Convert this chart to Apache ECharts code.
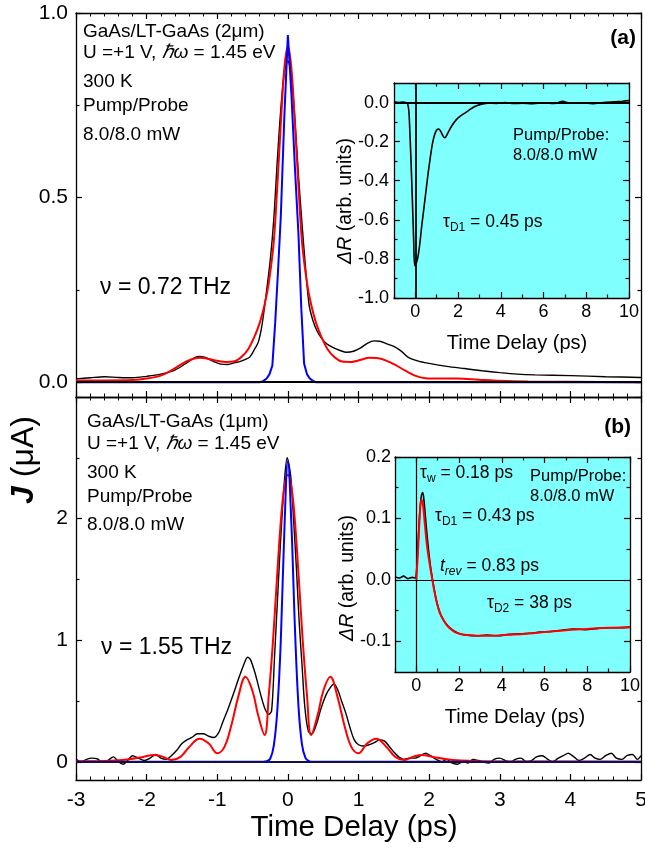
<!DOCTYPE html>
<html>
<head>
<meta charset="utf-8">
<script src="https://cdn.jsdelivr.net/npm/echarts@6/dist/echarts.min.js"></script>
<style>
  html, body { margin: 0; padding: 0; background: #fff; }
  #chart { width: 645px; height: 848px; }
</style>
</head>
<body>
<div id="chart"></div>
<script>
// ---------- data: photocurrent J(t) and reflectivity ΔR(t) ----------
// Panel (a): GaAs/LT-GaAs (2 µm)
const panelA_measured = [
  [-3.0,0.009],[-2.8,0.012],[-2.6,0.015],[-2.4,0.013],[-2.2,0.012],[-2.0,0.016],[-1.8,0.022],
  [-1.6,0.033],[-1.45,0.05],[-1.35,0.063],[-1.27,0.07],[-1.17,0.067],[-1.05,0.056],[-0.95,0.049],
  [-0.85,0.048],[-0.75,0.053],[-0.68,0.056],[-0.6,0.062],[-0.54,0.068],[-0.47,0.09],[-0.42,0.108],
  [-0.38,0.14],[-0.35,0.176],[-0.3,0.25],[-0.25,0.33],[-0.2,0.44],[-0.15,0.6],[-0.1,0.74],
  [-0.05,0.84],[0,0.87],[0.05,0.83],[0.1,0.71],[0.15,0.56],[0.2,0.43],[0.25,0.31],[0.3,0.21],
  [0.35,0.17],[0.41,0.14],[0.48,0.118],[0.55,0.104],[0.65,0.093],[0.74,0.086],[0.83,0.081],
  [0.93,0.084],[1.03,0.093],[1.13,0.106],[1.22,0.112],[1.3,0.111],[1.4,0.104],[1.5,0.097],
  [1.6,0.085],[1.7,0.068],[1.85,0.057],[2.0,0.051],[2.25,0.043],[2.5,0.037],[2.75,0.031],
  [3.0,0.026],[3.25,0.022],[3.5,0.02],[4.0,0.018],[4.5,0.015],[5.0,0.013]
];
const panelA_fit = [
  [-3,0.005],[-2.6,0.005],[-2.2,0.006],[-2.0,0.01],[-1.8,0.018],[-1.65,0.032],[-1.5,0.05],
  [-1.38,0.061],[-1.25,0.066],[-1.12,0.063],[-1.0,0.058],[-0.88,0.055],[-0.77,0.056],[-0.66,0.068],
  [-0.56,0.09],[-0.47,0.125],[-0.4,0.16],[-0.33,0.21],[-0.27,0.27],[-0.2,0.38],[-0.15,0.53],
  [-0.1,0.70],[-0.05,0.85],[0,0.91],[0.05,0.85],[0.1,0.70],[0.15,0.53],[0.2,0.38],[0.27,0.27],
  [0.33,0.21],[0.4,0.16],[0.47,0.125],[0.56,0.09],[0.66,0.068],[0.77,0.056],[0.9,0.055],
  [1.02,0.06],[1.15,0.066],[1.28,0.065],[1.4,0.058],[1.52,0.047],[1.65,0.033],[1.8,0.018],
  [1.95,0.011],[2.15,0.01],[2.4,0.01],[2.7,0.007],[3.0,0.004],[3.4,0.002],[4.0,0.001],[5.0,0.0]
];
const panelA_pulse = [
  [-3,0],[-0.4,0],[-0.35,0.003],[-0.3,0.01],[-0.26,0.022],[-0.22,0.045],[-0.18,0.16],
  [-0.14,0.30],[-0.1,0.45],[-0.05,0.72],[0,0.94],[0.05,0.78],[0.1,0.58],[0.15,0.40],
  [0.19,0.2],[0.23,0.05],[0.27,0.022],[0.31,0.01],[0.36,0.003],[0.4,0],[5,0]
];
// Panel (b): GaAs/LT-GaAs (1 µm)
const panelB_measured = [
  [-3.0,0.02],[-2.92,0.0],[-2.85,0.02],[-2.78,0.03],[-2.7,0.025],[-2.62,-0.005],[-2.55,0.01],
  [-2.47,0.04],[-2.4,0.0],[-2.33,-0.02],[-2.27,0.01],[-2.2,0.05],[-2.12,0.03],[-2.03,0.01],
  [-1.95,0.03],[-1.87,0.06],[-1.8,0.03],[-1.72,0.02],[-1.65,0.05],[-1.58,0.09],[-1.5,0.15],
  [-1.43,0.18],[-1.36,0.2],[-1.28,0.23],[-1.2,0.23],[-1.12,0.21],[-1.05,0.2],[-0.98,0.24],
  [-0.92,0.33],[-0.85,0.43],[-0.77,0.56],[-0.7,0.68],[-0.63,0.79],[-0.57,0.86],[-0.53,0.84],
  [-0.47,0.74],[-0.42,0.63],[-0.37,0.52],[-0.32,0.43],[-0.27,0.39],[-0.23,0.42],[-0.19,0.85],
  [-0.15,1.3],[-0.1,1.85],[-0.05,2.3],[-0.01,2.5],[0.04,2.35],[0.08,2.0],[0.12,1.6],[0.16,1.15],
  [0.2,0.8],[0.24,0.45],[0.29,0.25],[0.34,0.23],[0.4,0.3],[0.47,0.44],[0.54,0.55],[0.6,0.61],
  [0.65,0.64],[0.7,0.6],[0.76,0.5],[0.82,0.4],[0.88,0.28],[0.94,0.18],[1.0,0.14],[1.07,0.13],
  [1.15,0.14],[1.23,0.16],[1.3,0.18],[1.37,0.17],[1.43,0.13],[1.5,0.08],[1.57,0.04],[1.64,0.02],
  [1.72,0.03],[1.8,0.03],[1.88,0.05],[1.95,0.07],[2.02,0.05],[2.1,0.02],[2.18,0.0],[2.25,0.02],
  [2.32,-0.01],[2.4,-0.02],[2.48,0.0],[2.55,-0.01],[2.62,0.02],[2.7,0.01],[2.78,-0.005],
  [2.85,-0.01],[2.92,0.02],[3.0,0.03],[3.08,0.01],[3.15,-0.005],[3.22,0.02],[3.3,0.03],
  [3.38,0.0],[3.45,0.01],[3.52,0.04],[3.6,0.05],[3.68,0.02],[3.75,0.0],[3.83,0.03],[3.9,0.05],
  [3.97,0.07],[4.05,0.04],[4.12,0.01],[4.2,0.03],[4.28,0.06],[4.35,0.03],[4.42,0.02],[4.5,0.05],
  [4.58,0.07],[4.65,0.03],[4.73,0.02],[4.8,0.05],[4.88,0.06],[4.95,0.02],[5.0,0.05]
];
const panelB_fit = [
  [-3,0.004],[-2.7,0.005],[-2.45,0.01],[-2.25,0.02],[-2.05,0.04],[-1.9,0.055],[-1.77,0.04],
  [-1.65,0.015],[-1.52,0.04],[-1.4,0.12],[-1.25,0.19],[-1.12,0.15],[-1.0,0.07],[-0.9,0.12],
  [-0.8,0.3],[-0.7,0.54],[-0.6,0.70],[-0.5,0.58],[-0.42,0.38],[-0.33,0.22],[-0.27,0.55],
  [-0.21,1.0],[-0.15,1.55],[-0.09,2.05],[-0.04,2.3],[0,2.36],[0.04,2.3],[0.09,2.05],[0.15,1.55],
  [0.21,1.0],[0.27,0.55],[0.33,0.22],[0.42,0.38],[0.5,0.58],[0.6,0.70],[0.7,0.54],[0.8,0.3],
  [0.9,0.12],[1.0,0.07],[1.12,0.15],[1.25,0.19],[1.4,0.12],[1.52,0.04],[1.65,0.015],[1.77,0.04],
  [1.9,0.055],[2.05,0.04],[2.25,0.02],[2.45,0.01],[2.7,0.005],[3.0,0.003],[5.0,0.0]
];
const panelB_pulse = [
  [-3,0],[-0.35,0],[-0.3,0.004],[-0.25,0.025],[-0.2,0.13],[-0.15,0.42],[-0.1,1.0],[-0.05,1.9],
  [0,2.47],[0.05,1.95],[0.1,1.1],[0.15,0.46],[0.2,0.14],[0.25,0.03],[0.3,0.005],[0.35,0],[5,0]
];
// Inset (a): ΔR transient
const insetA_dR = [
  [-1.0,0.004],[-0.8,0.0],[-0.6,0.003],[-0.45,0.0],[-0.36,-0.008],[-0.3,-0.05],[-0.25,-0.17],
  [-0.2,-0.31],[-0.14,-0.5],[-0.08,-0.7],[-0.03,-0.835],[0.05,-0.82],[0.12,-0.79],[0.2,-0.73],
  [0.3,-0.63],[0.4,-0.54],[0.5,-0.45],[0.6,-0.36],[0.7,-0.28],[0.8,-0.21],[0.9,-0.165],
  [1.0,-0.14],[1.1,-0.135],[1.2,-0.15],[1.3,-0.172],[1.38,-0.18],[1.5,-0.16],[1.7,-0.12],
  [1.9,-0.09],[2.1,-0.07],[2.3,-0.055],[2.5,-0.04],[2.7,-0.025],[2.9,-0.015],[3.1,-0.008],
  [3.4,-0.003],[3.8,-0.004],[4.2,0.0],[4.6,-0.005],[5.0,-0.003],[5.5,-0.006],[6.0,-0.002],
  [6.5,-0.005],[6.9,0.006],[7.2,-0.003],[7.8,-0.002],[8.3,-0.006],[8.8,0.0],[9.3,0.004],
  [9.7,0.007],[10,0.01]
];
// Inset (b): ΔR transient and fit
const insetB_dR = [
  [-1.0,0.005],[-0.8,0.003],[-0.6,0.006],[-0.4,0.002],[-0.2,0.004],[-0.05,0.003],[0.0,0.01],
  [0.08,0.06],[0.16,0.11],[0.24,0.138],[0.3,0.142],[0.36,0.128],[0.45,0.092],[0.55,0.055],
  [0.65,0.025],[0.75,0.002],[0.85,-0.018],[0.97,-0.038],[1.1,-0.053],[1.28,-0.066],[1.45,-0.074],
  [1.6,-0.079],[1.8,-0.084],[2.06,-0.088],[2.4,-0.09],[2.84,-0.091],[3.3,-0.09],[3.8,-0.091],
  [4.25,-0.089],[4.8,-0.088],[5.3,-0.087],[5.8,-0.085],[6.3,-0.084],[6.8,-0.082],[7.35,-0.08],
  [7.9,-0.081],[8.5,-0.079],[9.0,-0.078],[9.5,-0.078],[10,-0.077]
];
const insetB_fit = [
  [0,0],[0.08,0.05],[0.16,0.105],[0.23,0.131],[0.3,0.125],[0.4,0.09],[0.5,0.055],[0.65,0.02],
  [0.75,0.0],[0.85,-0.02],[0.97,-0.039],[1.1,-0.054],[1.28,-0.066],[1.45,-0.075],[1.6,-0.08],
  [1.8,-0.085],[2.06,-0.088],[2.5,-0.09],[3,-0.091],[3.5,-0.091],[4,-0.09],[5,-0.088],[6,-0.085],
  [7,-0.082],[8,-0.08],[9,-0.078],[10,-0.077]
];

// ---------- tick values ----------
const mainYTicksA = [0, 0.5, 1.0];
const mainYMinorA = [0.25, 0.75];
const mainYTicksB = [0, 1, 2, 3];
const mainYLabelsB = [0, 1, 2];
const mainYMinorB = [0.5, 1.5, 2.5];
const insetXTicks = [0, 2, 4, 6, 8, 10];
const insetXMinor = [-1, 1, 3, 5, 7, 9];
const insetAYTicks = [-1.0, -0.8, -0.6, -0.4, -0.2, 0.0];
const insetAYMinor = [-0.9, -0.7, -0.5, -0.3, -0.1];
const insetBYTicks = [-0.1, 0.0, 0.1, 0.2];
const insetBYMinor = [-0.05, 0.05, 0.15];

const FONT = '"Liberation Sans", Arial, Helvetica, sans-serif';
const CYAN = '#80ffff';

// ---------- axis helpers ----------
const xAxes = [], yAxes = [];
function baseAxis(gridIndex, position, min, max) {
  return {
    type: 'value', gridIndex, position, min, max,
    axisLine: { show: true, onZero: false, lineStyle: { color: '#000', width: 1.3 } },
    axisTick: { show: true, inside: true, length: 6, lineStyle: { color: '#000', width: 1.2 } },
    axisLabel: { show: false },
    splitLine: { show: false },
    minorTick: { show: false },
    minorSplitLine: { show: false }
  };
}
// Adds a framed pair of axes (two opposite sides); returns index of the first one.
function framed(list, gridIndex, positions, min, max, major, minor, label) {
  let first = -1;
  positions.forEach((pos, k) => {
    const a = baseAxis(gridIndex, pos, min, max);
    if (major.interval) {
      a.interval = major.interval;
      a.minorTick = { show: true, splitNumber: major.split, length: 3.5, lineStyle: { color: '#000', width: 1 } };
    } else {
      a.axisTick.customValues = major.values;
    }
    if (k === 0 && label) {
      a.axisLabel = Object.assign({ show: true, color: '#000', fontFamily: FONT }, label.style);
      if (label.values) a.axisLabel.customValues = label.values;
    }
    list.push(a);
    if (k === 0) first = list.length - 1;
    if (minor) {
      const m = baseAxis(gridIndex, pos, min, max);
      m.axisLine.show = false;
      m.axisTick.customValues = minor;
      m.axisTick.length = 3.5;
      list.push(m);
    }
  });
  return first;
}
const fix1 = v => Number(v).toFixed(1);

// panel (a)
const xa = framed(xAxes, 0, ['bottom', 'top'], -3, 5, { interval: 1, split: 5 }, null, null);
const ya = framed(yAxes, 0, ['left', 'right'], -0.04, 1.0, { values: mainYTicksA }, mainYMinorA,
  { values: mainYTicksA, style: { fontSize: 21, margin: 8, formatter: fix1 } });
// panel (b)
const xb = framed(xAxes, 1, ['bottom', 'top'], -3, 5, { interval: 1, split: 5 }, null,
  { style: { fontSize: 21, margin: 10 } });
const yb = framed(yAxes, 1, ['left', 'right'], -0.15, 3.0, { values: mainYTicksB }, mainYMinorB,
  { values: mainYLabelsB, style: { fontSize: 21, margin: 8 } });
// inset (a)
const xia = framed(xAxes, 2, ['bottom', 'top'], -1, 10, { values: insetXTicks }, insetXMinor,
  { values: insetXTicks, style: { fontSize: 18, margin: 5 } });
const yia = framed(yAxes, 2, ['left', 'right'], -1.0, 0.1, { values: insetAYTicks }, insetAYMinor,
  { values: insetAYTicks, style: { fontSize: 18, margin: 5, formatter: fix1 } });
// inset (b)
const xib = framed(xAxes, 3, ['bottom', 'top'], -1, 10, { values: insetXTicks }, insetXMinor,
  { values: insetXTicks, style: { fontSize: 18, margin: 5 } });
const yib = framed(yAxes, 3, ['left', 'right'], -0.15, 0.2, { values: insetBYTicks }, insetBYMinor,
  { values: insetBYTicks, style: { fontSize: 18, margin: 4, formatter: fix1 } });

function line(data, xi, yi, color, width, smooth, extra) {
  return Object.assign({
    type: 'line', data, xAxisIndex: xi, yAxisIndex: yi, showSymbol: false, symbol: 'none',
    smooth: smooth, lineStyle: { color, width }, itemStyle: { color }, animation: false, silent: true
  }, extra || {});
}
function zeroLine(color, width, withVertical) {
  const data = [{ yAxis: 0 }];
  if (withVertical) data.push({ xAxis: 0 });
  return { silent: true, symbol: 'none', animation: false, label: { show: false },
    lineStyle: { color, width, type: 'solid' }, emphasis: { disabled: true }, data };
}

// ---------- text annotations ----------
function rich(size) {
  return {
    n: { fontSize: size, fontFamily: FONT, fill: '#000' },
    i: { fontSize: size, fontFamily: FONT, fontStyle: 'italic', fill: '#000' },
    s: { fontSize: Math.round(size * 0.68), fontFamily: FONT, padding: [Math.round(size * 0.7), 0, 0, 0], fill: '#000' },
    si: { fontSize: Math.round(size * 0.68), fontFamily: FONT, fontStyle: 'italic', padding: [Math.round(size * 0.7), 0, 0, 0], fill: '#000' },
    b: { fontSize: size, fontFamily: FONT, fontStyle: 'italic', fontWeight: 'bold', fill: '#000' }
  };
}
function T(x, y, text, size, opts) {
  return { type: 'text', x, y, z: 100, silent: true,
    style: Object.assign({ text, fontSize: size, fontFamily: FONT, fill: '#000', align: 'left',
      verticalAlign: 'middle', rich: rich(size) }, opts || {}) };
}
function TR(x, y, text, size) {  // rotated, reading bottom-to-top
  const t = T(x, y, text, size, { align: 'center' });
  t.rotation = Math.PI / 2;
  return t;
}
const graphics = [
  // panel (a)
  T(83, 32, '{n|GaAs/LT-GaAs (2μm)}', 19),
  T(83, 53, '{n|U =+1 V, }{i|ℏω}{n| = 1.45 eV}', 19),
  T(83, 82, '300 K', 19),
  T(83, 106, 'Pump/Probe', 19),
  T(83, 135, '8.0/8.0 mW', 19),
  T(100, 288, 'ν = 0.72 THz', 23),
  T(636, 38, '(a)', 21, { align: 'right', fontWeight: 'bold' }),
  // panel (b)
  T(87, 422, '{n|GaAs/LT-GaAs (1μm)}', 19),
  T(87, 444, '{n|U =+1 V, }{i|ℏω}{n| = 1.45 eV}', 19),
  T(87, 473, '300 K', 19),
  T(87, 497, 'Pump/Probe', 19),
  T(87, 525, '8.0/8.0 mW', 19),
  T(101, 648, 'ν = 1.55 THz', 23),
  T(631, 427, '(b)', 21, { align: 'right', fontWeight: 'bold' }),
  // inset (a)
  T(513, 135, 'Pump/Probe:', 16.5),
  T(513, 155, '8.0/8.0 mW', 16.5),
  T(443, 222, '{n|τ}{s|D1}{n| = 0.45 ps}', 17.5),
  TR(346, 201, '{i|ΔR}{n| (arb. units)}', 19.5),
  T(517, 343, 'Time Delay (ps)', 20, { align: 'center' }),
  // inset (b)
  T(420, 473, '{n|τ}{s|w}{n| = 0.18 ps}', 17.5),
  T(530, 476, 'Pump/Probe:', 16.5),
  T(530, 496, '8.0/8.0 mW', 16.5),
  T(435, 516, '{n|τ}{s|D1}{n| = 0.43 ps}', 17.5),
  T(440, 566, '{i|t}{si|rev}{n| = 0.83 ps}', 17.5),
  T(487, 603, '{n|τ}{s|D2}{n| = 38 ps}', 17.5),
  TR(348, 578, '{i|ΔR}{n| (arb. units)}', 19.5),
  T(515, 717, 'Time Delay (ps)', 20, { align: 'center' }),
  // main axis titles
  T(354, 828, 'Time Delay (ps)', 29.5, { align: 'center' }),
  TR(24, 460, '{b|J}{n| (μA)}', 32)
];

const option = {
  backgroundColor: '#fff',
  animation: false,
  grid: [
    { left: 76, top: 13, width: 565, height: 384, outerBoundsMode: 'none', containLabel: false },
    { left: 76, top: 397, width: 565, height: 383, outerBoundsMode: 'none', containLabel: false },
    { left: 394, top: 83, width: 235, height: 215, show: true, backgroundColor: CYAN, borderWidth: 0, outerBoundsMode: 'none', containLabel: false },
    { left: 395, top: 457, width: 235, height: 215, show: true, backgroundColor: CYAN, borderWidth: 0, outerBoundsMode: 'none', containLabel: false }
  ],
  xAxis: xAxes,
  yAxis: yAxes,
  series: [
    line(panelA_measured, xa, ya, '#000', 1.4, 0.3, { z: 2, markLine: zeroLine('#000', 1.8, false) }),
    line(panelA_fit, xa, ya, '#ff0000', 2, 0.3, { z: 3 }),
    line(panelA_pulse, xa, ya, '#0000ff', 2, false, { z: 4 }),
    line(panelB_measured, xb, yb, '#000', 1.4, 0.3, { z: 2 }),
    line(panelB_fit, xb, yb, '#ff0000', 2, 0.4, { z: 3 }),
    line(panelB_pulse, xb, yb, '#0000ff', 2, 0.4, { z: 4, markLine: zeroLine('#10104a', 1.8, false) }),
    line(insetA_dR, xia, yia, '#000', 1.6, 0.3, { z: 5, markLine: zeroLine('#000', 1.8, true) }),
    line(insetB_dR, xib, yib, '#000', 1.6, 0.3, { z: 5, markLine: zeroLine('#000', 1.2, true) }),
    line(insetB_fit, xib, yib, '#ff0000', 2, 0.3, { z: 6 })
  ],
  graphic: graphics
};

const chart = echarts.init(document.getElementById('chart'), null, { renderer: 'canvas' });
chart.setOption(option);
</script>
</body>
</html>
